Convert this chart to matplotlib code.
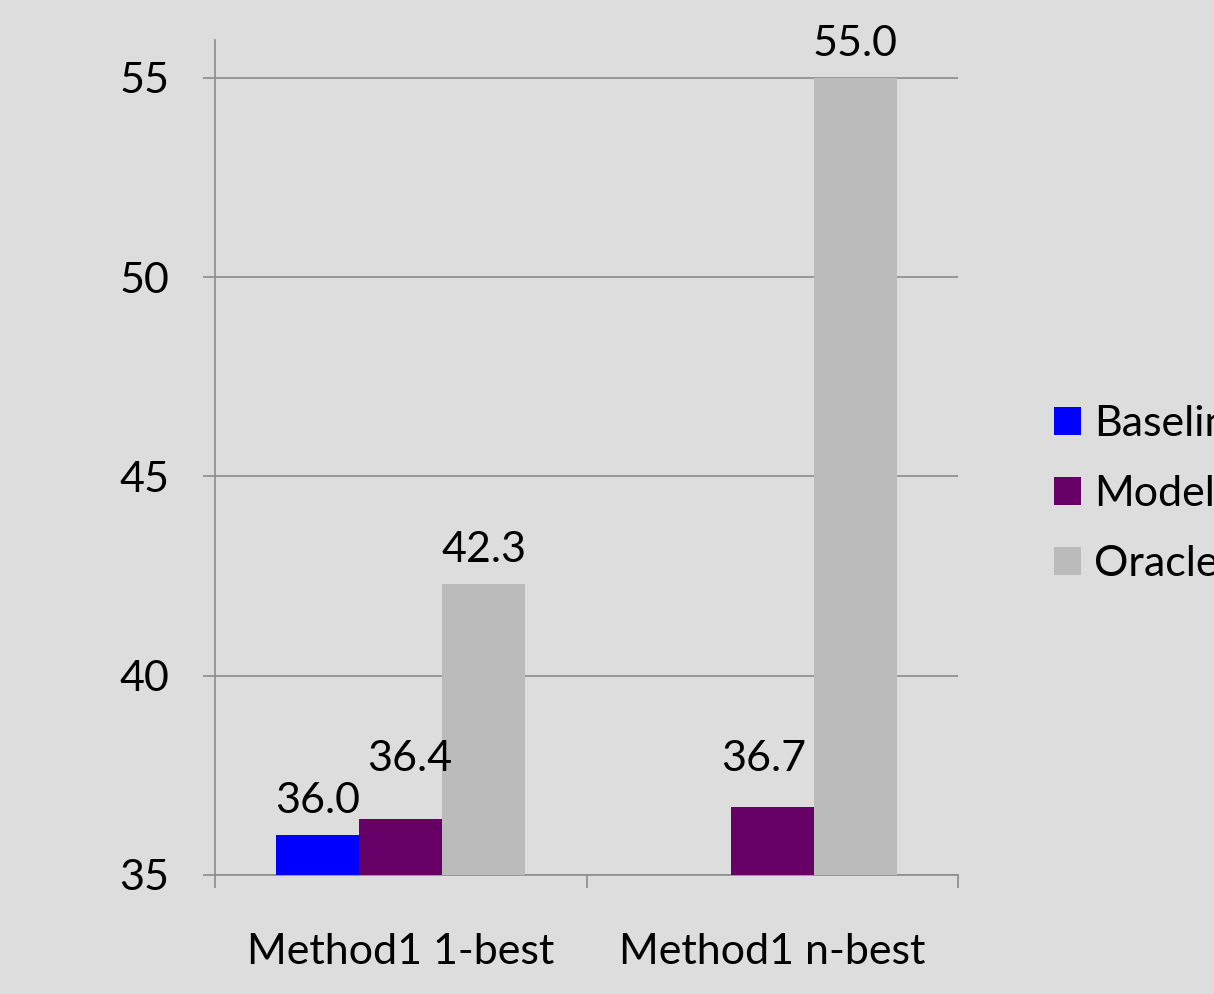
import matplotlib
matplotlib.use("Agg")
import matplotlib.pyplot as plt
import numpy as np

categories = ["Method1 1-best", "Method1 n-best"]
series_names = ["Baseline", "Model", "Oracle"]
baseline = [36.0, np.nan]
model = [36.4, 36.7]
oracle = [42.3, 55.0]
colors = ["#0000FF", "#660066", "#BBBBBB"]
bg = "#DDDDDD"
line_col = "#8C8C8C"

plt.rcParams["font.family"] = ["Lato", "DejaVu Sans"]
fs = 31

fig = plt.figure(figsize=(12.14, 9.94), dpi=100, facecolor=bg)
ax = fig.add_axes([215 / 1214, 1 - 875 / 994, (958 - 215) / 1214, (875 - 40) / 994])
ax.set_facecolor(bg)

x = np.arange(len(categories))
w = 0.223
series = [baseline, model, oracle]
# extra shifts (points) for labels that would otherwise collide
label_lift = [[0, 0], [19, 10], [0, 0]]
label_dx = [[0, 0], [6.5, -6], [0, 0]]
for i, (vals, c) in enumerate(zip(series, colors)):
    pos = x + (i - 1) * w
    heights = [v - 35 if not np.isnan(v) else 0 for v in vals]
    ax.bar(pos, heights, width=w, bottom=35, color=c, label=series_names[i], zorder=3)
    for j, v in enumerate(vals):
        if np.isnan(v):
            continue
        ax.annotate(f"{v:.1f}", (pos[j], v), xytext=(label_dx[i][j], 16 + label_lift[i][j]),
                    textcoords="offset points", ha="center", va="baseline", fontsize=fs,
                    zorder=5, annotation_clip=False)

ax.set_xlim(-0.5, 1.5)
ax.set_ylim(35, 55.95)
ax.set_yticks([35, 40, 45, 50, 55])
ax.yaxis.grid(True, color=line_col, linewidth=1.2, zorder=0)
ax.set_axisbelow(True)

ax.set_xticks(x)
ax.set_xticklabels(categories, fontsize=fs)
ax.set_xticks([-0.5, 0.5, 1.5], minor=True)
ax.tick_params(axis="x", which="major", length=0, pad=42)
ax.tick_params(axis="x", which="minor", length=9, width=1.2, color=line_col, direction="out")
ax.tick_params(axis="y", length=9, width=1.2, color=line_col, direction="out", pad=24, labelsize=fs)

for s in ["top", "right"]:
    ax.spines[s].set_visible(False)
for s in ["left", "bottom"]:
    ax.spines[s].set_color(line_col)
    ax.spines[s].set_linewidth(1.2)

fig.legend(loc="center left", bbox_to_anchor=(1054 / 1214, 1 - 494 / 994), frameon=False,
           fontsize=fs, handlelength=0.63, handleheight=0.63, handletextpad=0.3,
           labelspacing=0.74, borderpad=0, borderaxespad=0)

fig.savefig("out.png", dpi=100, facecolor=bg)
